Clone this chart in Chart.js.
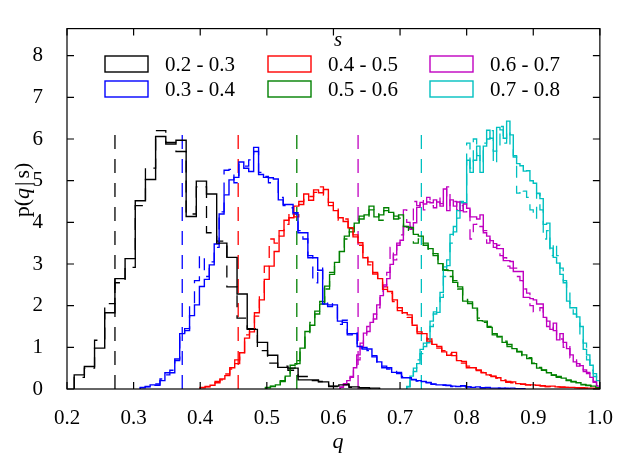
<!DOCTYPE html>
<html>
<head>
<meta charset="utf-8">
<script src="https://cdn.jsdelivr.net/npm/chart.js@4.4.0/dist/chart.umd.min.js"></script>
<style>
  html, body { margin: 0; padding: 0; background: #fff; }
</style>
</head>
<body>
<canvas id="histChart" width="622" height="458"></canvas>
<script>
// one histogram per s range; each has a solid and a dashed version
const seriesLabels = ["0.2 - 0.3", "0.3 - 0.4", "0.4 - 0.5", "0.5 - 0.6", "0.6 - 0.7", "0.7 - 0.8"];
const seriesColors = ["#000000", "#0000ff", "#ff0000", "#008000", "#c000c0", "#00c0c0"];

// first bin edge (q) and bin width of each histogram
const binStart = [0.2108, 0.31, 0.40, 0.498, 0.61, 0.71];
const binWidth = [0.01528, 0.0074, 0.0074, 0.0074, 0.005, 0.005];

const black = [0.34, 0.54, 0.98, 1.83, 2.65, 3.13, 4.52, 5.03, 6.06, 5.88,
  5.97, 4.14, 4.99, 4.68, 3.5, 3.16, 2.28, 1.43, 1.12, 0.81,
  0.52, 0.5, 0.22, 0.22, 0.17, 0.07, 0.1, 0.05, 0.03, 0.02];
const blackDash = [0.28, 0.5, 1.17, 2.05, 2.55, 2.92, 4.4, 5.3, 6.2, 5.92,
  5.7, 4.2, 4.85, 3.75, 3.55, 2.45, 1.7, 1.45, 0.92, 0.62,
  0.55, 0.45, 0.3, 0.2, 0.18, 0.06, 0.12, 0.04, 0.03, 0.01];

const blue = [0.04, 0.05, 0.1, 0.09, 0.2, 0.39, 0.39, 0.72, 1.33, 1.4,
  1.76, 2.02, 2.46, 2.63, 2.98, 3.48, 4.2, 4.66, 5.02, 5.08,
  5.45, 5.3, 5.22, 5.8, 5.15, 5.08, 5.07, 5.04, 4.54, 4.43,
  4.43, 4.23, 3.75, 3.75, 3.15, 3.15, 2.85, 2.04, 2.02, 2.02,
  1.63, 1.6, 1.33, 1.33, 1.02, 0.96, 0.96, 0.77, 0.65, 0.51,
  0.51, 0.4, 0.4, 0.27, 0.27, 0.22, 0.2, 0.18, 0.15, 0.12,
  0.1, 0.1, 0.08, 0.07, 0.06, 0.08, 0.05, 0.04, 0.05, 0.03,
  0.03, 0.02, 0.02, 0.02, 0.01, 0.02, 0.01, 0.01];
const blueDash = [0.03, 0.06, 0.08, 0.12, 0.24, 0.34, 0.45, 0.68, 1.3, 1.45,
  2.0, 2.6, 3.2, 2.7, 3.05, 3.4, 4.25, 5.25, 5.27, 4.95,
  5.4, 5.35, 5.5, 5.7, 5.2, 5.1, 4.95, 4.98, 4.6, 4.4,
  4.35, 4.2, 3.8, 3.6, 3.2, 2.55, 2.9, 2.1, 1.98, 2.05,
  1.55, 1.65, 1.3, 1.38, 0.98, 1.0, 0.92, 0.8, 0.6, 0.55,
  0.48, 0.42, 0.37, 0.3, 0.25, 0.23, 0.19, 0.17, 0.16, 0.11,
  0.11, 0.09, 0.09, 0.06, 0.07, 0.07, 0.05, 0.05, 0.04, 0.03,
  0.04, 0.02, 0.02, 0.01, 0.02, 0.01, 0.01, 0.01];

const red = [0.04, 0.05, 0.09, 0.15, 0.24, 0.32, 0.51, 0.61, 0.87, 1.22,
  1.37, 1.83, 2.14, 2.63, 2.95, 3.3, 3.67, 4.05, 4.11, 4.39,
  4.43, 4.68, 4.53, 4.78, 4.71, 4.79, 4.48, 4.28, 4.11, 4.02,
  3.87, 3.65, 3.51, 3.15, 3.05, 2.76, 2.65, 2.39, 2.34, 2.14,
  1.88, 1.83, 1.78, 1.53, 1.37, 1.33, 1.15, 1.07, 1.02, 0.89,
  0.81, 0.88, 0.68, 0.66, 0.51, 0.51, 0.46, 0.39, 0.34, 0.31,
  0.27, 0.2, 0.16, 0.17, 0.13, 0.12, 0.1, 0.1, 0.09, 0.07,
  0.06, 0.07, 0.05, 0.05, 0.04, 0.04, 0.03, 0.03, 0.02, 0.02,
  0.01];
const redDash = [0.03, 0.06, 0.1, 0.18, 0.22, 0.36, 0.48, 0.7, 0.82, 1.3,
  1.45, 1.75, 2.3, 2.95, 3.6, 3.5, 3.8, 3.95, 4.25, 4.13,
  4.5, 4.6, 4.62, 4.72, 4.85, 4.65, 4.4, 4.35, 4.05, 4.08,
  3.8, 3.7, 3.45, 3.2, 2.98, 2.8, 2.6, 2.45, 2.3, 2.1,
  1.95, 1.8, 1.72, 1.58, 1.33, 1.3, 1.2, 1.05, 0.98, 0.92,
  0.84, 0.8, 0.72, 0.62, 0.55, 0.48, 0.44, 0.4, 0.33, 0.3,
  0.26, 0.22, 0.18, 0.15, 0.14, 0.11, 0.1, 0.09, 0.08, 0.08,
  0.06, 0.06, 0.05, 0.04, 0.04, 0.03, 0.03, 0.02, 0.02, 0.01,
  0.01];

const green = [0.04, 0.06, 0.1, 0.2, 0.31, 0.57, 0.61, 0.98, 1.38, 1.53,
  1.87, 2.04, 2.47, 2.75, 3.04, 3.3, 3.67, 3.77, 3.98, 4.08,
  4.18, 4.39, 4.13, 4.18, 4.28, 4.24, 4.08, 4.18, 3.9, 3.88,
  3.71, 3.67, 3.45, 3.37, 3.25, 3.01, 2.86, 2.84, 2.56, 2.45,
  2.11, 2.09, 1.94, 1.64, 1.63, 1.48, 1.33, 1.26, 1.12, 1.07,
  0.97, 0.89, 0.82, 0.73, 0.61, 0.5, 0.46, 0.39, 0.34, 0.28,
  0.26, 0.22, 0.17, 0.15, 0.1, 0.08, 0.07, 0.03];
const greenDash = [0.03, 0.07, 0.12, 0.18, 0.34, 0.5, 0.68, 0.95, 1.3, 1.6,
  1.8, 2.1, 2.4, 2.8, 3.0, 3.35, 3.6, 3.85, 3.95, 4.15,
  4.1, 4.3, 4.2, 4.05, 4.35, 4.2, 4.15, 4.1, 3.7, 3.85,
  3.5, 3.6, 3.5, 3.3, 3.2, 3.05, 2.85, 2.7, 2.6, 2.4,
  2.15, 2.05, 1.9, 1.7, 1.6, 1.5, 1.3, 1.25, 1.15, 1.02,
  0.95, 0.9, 0.8, 0.75, 0.62, 0.52, 0.45, 0.4, 0.33, 0.3,
  0.25, 0.2, 0.18, 0.14, 0.11, 0.09, 0.06, 0.03];

const magenta = [0.05, 0.13, 0.2, 0.28, 0.51, 0.82, 1.02, 1.34, 1.38, 1.6,
  1.68, 2.02, 2.24, 2.47, 2.65, 2.99, 3.22, 3.45, 3.57, 3.9,
  3.88, 3.83, 3.99, 4.36, 4.48, 4.44, 4.49, 4.47, 4.54, 4.49,
  4.39, 4.8, 4.28, 4.54, 4.39, 4.49, 4.28, 4.44, 4.34, 4.13,
  4.13, 4.08, 4.18, 3.75, 3.67, 3.56, 3.49, 3.37, 3.37, 3.08,
  3.08, 3.06, 2.82, 2.82, 2.82, 2.2, 2.2, 2.17, 2.14, 2.04,
  2.04, 1.72, 1.63, 1.43, 1.58, 1.18, 1.33, 1.12, 0.97, 0.82,
  0.65, 0.61, 0.56, 0.46, 0.37, 0.28, 0.16, 0.07];
const magentaDash = [0.04, 0.1, 0.24, 0.3, 0.45, 0.7, 1.1, 1.25, 1.5, 1.55,
  1.8, 1.95, 2.35, 2.5, 2.8, 3.4, 3.1, 3.5, 3.7, 4.3,
  4.0, 3.9, 4.5, 4.4, 4.55, 4.3, 4.6, 4.4, 4.35, 4.6,
  4.45, 4.6, 4.85, 4.4, 4.5, 4.3, 4.4, 4.25, 4.35, 3.6,
  3.95, 4.0, 3.9, 3.8, 3.5, 3.6, 3.4, 3.45, 3.2, 3.15,
  2.95, 2.9, 2.9, 2.7, 2.6, 2.4, 2.3, 2.0, 1.85, 1.84,
  1.95, 1.8, 1.5, 1.55, 1.4, 1.3, 1.2, 1.0, 1.05, 0.75,
  0.7, 0.55, 0.6, 0.42, 0.4, 0.25, 0.18, 0.08];

const cyan = [0.06, 0.31, 0.42, 0.61, 0.95, 1.02, 1.11, 1.63, 1.8, 1.84,
  2.32, 2.93, 2.96, 3.71, 3.77, 4.28, 4.47, 4.47, 5.49, 5.2,
  5.49, 5.83, 5.2, 5.83, 6.21, 6.02, 5.71, 6.28, 6.22, 6.02,
  6.43, 6.1, 5.57, 5.41, 5.36, 5.23, 5.24, 5.0, 4.94, 4.69,
  4.57, 3.95, 3.98, 3.38, 3.16, 3.02, 2.75, 2.55, 2.11, 1.95,
  1.95, 1.73, 1.5, 0.95, 0.82, 0.57, 0.37, 0.2];
const cyanDash = [0.05, 0.25, 0.5, 0.7, 0.85, 1.1, 1.2, 1.5, 1.85, 2.0,
  2.2, 2.7, 3.1, 3.5, 3.9, 4.1, 4.5, 4.3, 5.9, 5.3,
  6.0, 5.6, 5.4, 5.9, 6.0, 6.2, 5.4, 5.8, 6.3, 5.9,
  6.2, 5.8, 5.6, 4.7, 4.8, 4.75, 4.6, 4.3, 4.1, 4.7,
  4.3, 3.6, 3.8, 3.2, 3.5, 3.2, 2.9, 2.6, 2.3, 2.05,
  1.8, 1.6, 1.3, 1.1, 0.7, 0.45, 0.3, 0.15];

const solidSeries = [black, blue, red, green, magenta, cyan];
const dashedSeries = [blackDash, blueDash, redDash, greenDash, magentaDash, cyanDash];

// vertical dashed markers (mean q of each s range) and their height
const meanQ = [0.272, 0.373, 0.457, 0.545, 0.637, 0.732];
const meanTop = 6.1;

const xTicks = [0.2, 0.3, 0.4, 0.5, 0.6, 0.7, 0.8, 0.9, 1.0];
const yTicks = [0, 1, 2, 3, 4, 5, 6, 7, 8];

const SERIF = "'Liberation Serif', 'DejaVu Serif', serif";

// histogram outline: vertical edge at each bin start, flat top across the bin
function histPoints(start, width, values) {
    const pts = [{ x: start, y: 0 }];
    values.forEach((v, i) => pts.push({ x: start + i * width, y: v }));
    pts.push({ x: start + values.length * width, y: 0 });
    return pts;
}

const datasets = [];
solidSeries.forEach((vals, i) => {
    datasets.push({
        label: seriesLabels[i],
        data: histPoints(binStart[i], binWidth[i], vals),
        borderColor: seriesColors[i],
        borderWidth: 1.4,
        stepped: true,
        pointRadius: 0,
        fill: false,
    });
});
dashedSeries.forEach((vals, i) => {
    datasets.push({
        label: seriesLabels[i] + " (dashed)",
        data: histPoints(binStart[i], binWidth[i], vals),
        borderColor: seriesColors[i],
        borderWidth: 1.3,
        borderDash: [12, 8],
        stepped: true,
        pointRadius: 0,
        fill: false,
    });
});
meanQ.forEach((m, i) => {
    datasets.push({
        label: seriesLabels[i] + " mean",
        data: [{ x: m, y: 0 }, { x: m, y: meanTop }],
        borderColor: seriesColors[i],
        borderWidth: 1.3,
        borderDash: [14, 10],
        pointRadius: 0,
        fill: false,
    });
});

// frame, inward ticks, legend and axis titles
const framePlugin = {
    id: "frame",
    afterDraw(chart) {
        const { ctx, chartArea: a, scales } = chart;
        const xs = scales.x, ys = scales.y;
        ctx.save();
        ctx.strokeStyle = "#000";
        ctx.lineWidth = 1.2;
        ctx.strokeRect(a.left, a.top, a.right - a.left, a.bottom - a.top);
        ctx.beginPath();
        xTicks.forEach((v) => {
            const px = xs.getPixelForValue(v);
            ctx.moveTo(px, a.bottom); ctx.lineTo(px, a.bottom - 7);
            ctx.moveTo(px, a.top); ctx.lineTo(px, a.top + 7);
        });
        yTicks.forEach((v) => {
            const py = ys.getPixelForValue(v);
            ctx.moveTo(a.left, py); ctx.lineTo(a.left + 7, py);
            ctx.moveTo(a.right, py); ctx.lineTo(a.right - 7, py);
        });
        ctx.stroke();

        // legend: 3 columns x 2 rows
        const boxX = [105, 268, 430];
        const textX = [165, 328, 490];
        const rowY = [64, 89];
        ctx.font = "21px " + SERIF;
        ctx.textBaseline = "middle";
        ctx.textAlign = "left";
        ctx.lineWidth = 1.4;
        seriesLabels.forEach((lab, i) => {
            const col = Math.floor(i / 2), row = i % 2;
            ctx.strokeStyle = seriesColors[i];
            ctx.strokeRect(boxX[col], rowY[row] - 8, 43, 16);
            ctx.fillStyle = "#000";
            ctx.fillText(lab, textX[col], rowY[row] + 1);
        });
        ctx.font = "italic 21px " + SERIF;
        ctx.textAlign = "center";
        ctx.fillText("s", 338, 40);

        // x title
        ctx.textBaseline = "alphabetic";
        ctx.font = "italic 22px " + SERIF;
        ctx.fillText("q", 338, 448);

        // y title p(q|s), rotated
        ctx.translate(29, 190);
        ctx.rotate(-Math.PI / 2);
        const parts = [["p(", false, 0], ["q", true, 2], ["|", false, 3], ["s)", false, 0]];
        let total = 0;
        parts.forEach(([t, it, gap]) => {
            ctx.font = (it ? "italic " : "") + "22px " + SERIF;
            total += ctx.measureText(t).width + gap;
        });
        let cx = -total / 2;
        ctx.textAlign = "left";
        parts.forEach(([t, it, gap]) => {
            ctx.font = (it ? "italic " : "") + "22px " + SERIF;
            ctx.fillText(t, cx, 0);
            cx += ctx.measureText(t).width + gap;
        });
        ctx.restore();
    },
};

const ctx = document.getElementById("histChart").getContext("2d");

const histChart = new Chart(ctx, {
    type: "line",
    data: { datasets: datasets },
    options: {
        responsive: false,
        devicePixelRatio: 1,
        animation: false,
        layout: { padding: { left: 0, right: 16, top: 7, bottom: 0 } },
        plugins: { legend: { display: false }, tooltip: { enabled: false } },
        elements: { line: { tension: 0 } },
        scales: {
            x: {
                type: "linear",
                min: 0.2,
                max: 1.0,
                afterBuildTicks: (s) => { s.ticks = xTicks.map((v) => ({ value: v })); },
                afterFit: (s) => { s.height = 69; },
                ticks: {
                    callback: (v) => Number(v).toFixed(1),
                    font: { family: SERIF, size: 21 },
                    color: "#000",
                    padding: 9,
                    maxRotation: 0,
                    autoSkip: false,
                },
                grid: { display: false },
                border: { display: false },
            },
            y: {
                type: "linear",
                min: 0,
                max: 8.65,
                afterBuildTicks: (s) => { s.ticks = yTicks.map((v) => ({ value: v })); },
                afterFit: (s) => { s.width = 67; },
                ticks: {
                    font: { family: SERIF, size: 21 },
                    color: "#000",
                    padding: 16,
                },
                grid: { display: false },
                border: { display: false },
            },
        },
    },
    plugins: [framePlugin],
});
</script>
</body>
</html>
